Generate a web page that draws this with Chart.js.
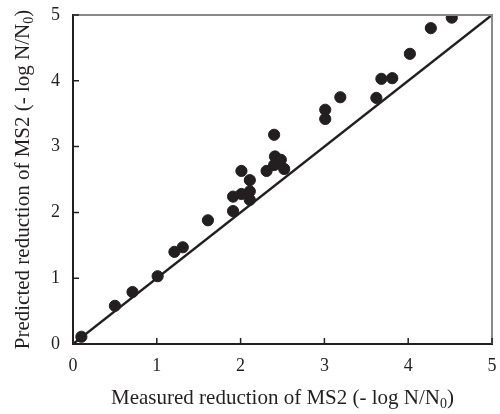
<!DOCTYPE html>
<html>
<head>
<meta charset="utf-8">
<script src="https://cdn.jsdelivr.net/npm/chart.js@4"></script>
<style>
  html, body { margin: 0; padding: 0; background: #fff; }
  #wrap { width: 500px; height: 414px; }
</style>
</head>
<body>
<div id="wrap"><canvas id="grafica"></canvas></div>
<script>
// datos
const medido   = [0.10, 0.50, 0.71, 1.01, 1.21, 1.31, 1.61, 1.91, 1.91, 2.01, 2.01, 2.11, 2.11, 2.11,
                  2.31, 2.40, 2.41, 2.40, 2.48, 2.52, 3.01, 3.01, 3.19, 3.62, 3.68, 3.81, 4.02, 4.27, 4.52];
const predicho = [0.11, 0.58, 0.79, 1.03, 1.40, 1.47, 1.88, 2.02, 2.24, 2.28, 2.63, 2.19, 2.32, 2.49,
                  2.63, 2.72, 2.85, 3.18, 2.80, 2.66, 3.42, 3.56, 3.75, 3.74, 4.03, 4.04, 4.41, 4.80, 4.96];
const linea1a1 = [0, 5];
const ticksEje = [0, 1, 2, 3, 4, 5];

const fuente = "'Liberation Serif', 'Times New Roman', serif";
const negro = '#231f20';

// titulos con subindice y marcas hacia dentro
const decoracion = {
    id: 'decoracion',
    afterDraw(chart) {
        const ctx = chart.ctx;
        const area = chart.chartArea;
        const sx = chart.scales.x, sy = chart.scales.y;
        ctx.save();

        // borde superior y derecho gris
        ctx.strokeStyle = '#8a8a8a';
        ctx.lineWidth = 2;
        ctx.beginPath();
        ctx.moveTo(area.left, area.top);
        ctx.lineTo(area.right, area.top);
        ctx.lineTo(area.right, area.bottom);
        ctx.stroke();

        // marcas
        ctx.strokeStyle = negro;
        ctx.lineWidth = 1.5;
        ctx.beginPath();
        ticksEje.forEach(v => {
            const px = sx.getPixelForValue(v);
            ctx.moveTo(px, area.bottom);
            ctx.lineTo(px, area.bottom - 6);
            const py = sy.getPixelForValue(v);
            ctx.moveTo(area.left, py);
            ctx.lineTo(area.left + 6, py);
        });
        ctx.stroke();

        ctx.fillStyle = negro;
        function titulo(texto, cx, cy, rot) {
            ctx.save();
            ctx.translate(cx, cy);
            ctx.rotate(rot);
            const fGrande = '21px ' + fuente, fChica = '14px ' + fuente;
            ctx.font = fGrande;
            const w1 = ctx.measureText(texto).width;
            ctx.font = fChica;
            const w2 = ctx.measureText('0').width;
            ctx.font = fGrande;
            const w3 = ctx.measureText(')').width;
            let x = -(w1 + w2 + w3) / 2;
            ctx.textBaseline = 'middle';
            ctx.textAlign = 'left';
            ctx.fillText(texto, x, 0);
            x += w1;
            ctx.font = fChica;
            ctx.fillText('0', x, 6);
            x += w2;
            ctx.font = fGrande;
            ctx.fillText(')', x, 0);
            ctx.restore();
        }
        titulo('Measured reduction of MS2 (- log N/N', (area.left + area.right) / 2, 398, 0);
        titulo('Predicted reduction of MS2 (- log N/N', 23, (area.top + area.bottom) / 2, -Math.PI / 2);
        ctx.restore();
    }
};

new Chart(document.getElementById('grafica'), {
    type: 'scatter',
    data: {
        datasets: [
            {
                label: 'datos',
                data: medido.map((m, i) => ({ x: m, y: predicho[i] })),
                backgroundColor: negro,
                borderColor: negro,
                pointRadius: 5.6,
                pointHoverRadius: 5.6
            },
            {
                label: '1:1',
                type: 'line',
                data: linea1a1.map(v => ({ x: v, y: v })),
                borderColor: negro,
                borderWidth: 2.5,
                pointRadius: 0,
                fill: false
            }
        ]
    },
    options: {
        responsive: true,
        maintainAspectRatio: false,
        animation: false,
        layout: { padding: { left: 0, top: 15, right: 8, bottom: 0 } },
        plugins: { legend: { display: false }, tooltip: { enabled: false } },
        scales: {
            x: {
                type: 'linear', min: 0, max: 5,
                afterBuildTicks: s => { s.ticks = ticksEje.map(v => ({ value: v })); },
                afterFit: s => { s.height = 70; s.paddingLeft = 0; s.paddingRight = 0; },
                grid: { display: false, drawTicks: false },
                border: { display: true, color: negro, width: 2 },
                ticks: { color: negro, padding: 11, font: { family: fuente, size: 18 } }
            },
            y: {
                type: 'linear', min: 0, max: 5,
                afterBuildTicks: s => { s.ticks = ticksEje.map(v => ({ value: v })); },
                afterFit: s => { s.width = 73; s.paddingTop = 0; s.paddingBottom = 0; },
                grid: { display: false, drawTicks: false },
                border: { display: true, color: negro, width: 2 },
                ticks: { color: negro, padding: 13, font: { family: fuente, size: 18 } }
            }
        }
    },
    plugins: [decoracion]
});
</script>
</body>
</html>
